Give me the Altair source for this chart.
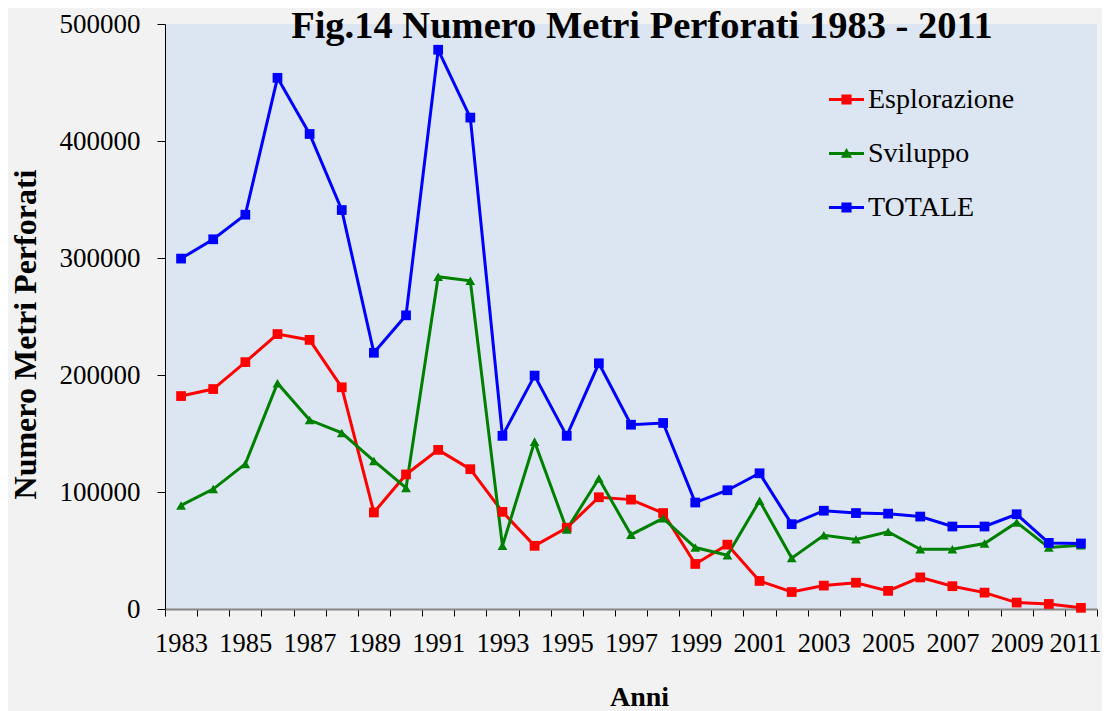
import altair as alt
import pandas as pd

anni = [1983, 1984, 1985, 1986, 1987, 1988, 1989, 1990, 1991, 1992,
        1993, 1994, 1995, 1996, 1997, 1998, 1999, 2000, 2001, 2002,
        2003, 2004, 2005, 2006, 2007, 2008, 2009, 2010, 2011]

esplorazione = [182000, 188000, 211000, 235000, 230000, 189500, 82500, 115000, 136000, 119500,
                83000, 54000, 69500, 95500, 93500, 82000, 38500, 55000, 24000, 14500,
                20000, 22500, 15500, 27000, 19500, 14000, 5500, 4300, 1000]

sviluppo = [88500, 102500, 124000, 193000, 161500, 150500, 126500, 103500, 284000, 280500,
            54000, 143000, 68000, 111500, 63500, 77500, 52500, 46000, 92500, 43500,
            63000, 59500, 66000, 51000, 51000, 56000, 74000, 52500, 54500]

totale = [299500, 316000, 337000, 454000, 406000, 341000, 219000, 251000, 478000, 420000,
          148000, 199500, 148000, 210000, 157500, 159000, 91000, 101500, 116000, 72500,
          84000, 82000, 81500, 79000, 70500, 70500, 81000, 56500, 56000]

serie = ["Esplorazione", "Sviluppo", "TOTALE"]
colori = ["#ff0000", "#008000", "#0000ff"]
forme = ["square", "triangle-up", "square"]
# legend symbols: line segment + marker
forme_legenda = [
    "M-1,-0.086H1V0.086H-1Z M-0.29,-0.29H0.29V0.29H-0.29Z",
    "M-1,-0.086H1V0.086H-1Z M0,-0.32L0.32,0.24H-0.32Z",
    "M-1,-0.086H1V0.086H-1Z M-0.29,-0.29H0.29V0.29H-0.29Z",
]

rows = []
for nome, valori in zip(serie, [esplorazione, sviluppo, totale]):
    for a, v in zip(anni, valori):
        rows.append({"anno": a, "valore": v, "serie": nome, "Legenda": nome})
df = pd.DataFrame(rows)

FONT = "Liberation Serif"

x_enc = alt.X(
    "anno:O",
    scale=alt.Scale(type="band", paddingInner=0, paddingOuter=0),
    axis=alt.Axis(
        title="Anni",
        labelExpr="datum.value % 2 == 1 ? datum.label : ''",
        labelAngle=0,
        labelFont=FONT, labelFontSize=26.5, labelColor="black",
        labelBaseline="alphabetic", labelPadding=35,
        labelOffset={"condition": {"test": "datum.value == 2011", "value": -6}, "value": 0},
        labelOverlap=False, labelFlush=False,
        tickBand="extent", tickSize=7, tickColor="black", tickWidth=1,
        domainColor="#868686", domainWidth=2,
        grid=False,
        titleFont=FONT, titleFontSize=28, titleFontWeight="bold", titleColor="black",
        titleX=474, titleY=96, titleBaseline="alphabetic", titleAlign="center",
    ),
)

y_enc = alt.Y(
    "valore:Q",
    scale=alt.Scale(domain=[0, 500000], nice=False),
    axis=alt.Axis(
        title="Numero Metri Perforati",
        values=[0, 100000, 200000, 300000, 400000, 500000],
        format="d",
        labelFont=FONT, labelFontSize=27, labelColor="black", labelPadding=17,
        tickSize=8, tickColor="black", tickWidth=1,
        domainColor="black", domainWidth=1,
        grid=False,
        titleFont=FONT, titleFontSize=32, titleFontWeight="bold", titleColor="black",
        titleAngle=-90, titleX=-130, titleY=310, titleBaseline="alphabetic", titleAlign="center",
    ),
)

lines = alt.Chart().mark_line(strokeWidth=3).encode(
    x=x_enc, y=y_enc,
    color=alt.Color("serie:N", scale=alt.Scale(domain=serie, range=colori), legend=None),
)

points = alt.Chart().mark_point(filled=True, size=95, opacity=1).encode(
    x=x_enc, y=y_enc,
    color=alt.Color("serie:N", scale=alt.Scale(domain=serie, range=colori), legend=None),
    shape=alt.Shape("serie:N", scale=alt.Scale(domain=serie, range=forme), legend=None),
)

leg = alt.Legend(
    title=None, orient="none", legendX=664, legendY=58,
    labelFont=FONT, labelFontSize=28, labelColor="black", labelOffset=4,
    symbolSize=1225, symbolStrokeWidth=0, symbolOpacity=1, rowPadding=22,
    padding=0,
)

legend_layer = alt.Chart().mark_point(filled=True, opacity=0).encode(
    x=x_enc, y=y_enc,
    color=alt.Color("Legenda:N", scale=alt.Scale(domain=serie, range=colori), legend=leg),
    shape=alt.Shape("Legenda:N", scale=alt.Scale(domain=serie, range=forme_legenda), legend=leg),
)

chart = alt.layer(lines, points, legend_layer, data=df).resolve_scale(
    color="independent", shape="independent"
).properties(
    width=932, height=585,
    title=alt.TitleParams(
        "Fig.14 Numero Metri Perforati 1983 - 2011",
        font=FONT, fontSize=38.5, fontWeight="bold", color="black",
        anchor="middle", frame="group", baseline="alphabetic", offset=7, dx=11, dy=73,
    ),
    autosize=alt.AutoSizeParams(type="none"),
    padding={"left": 157, "top": 16, "right": 5, "bottom": 102},
    background="#f2f2f2",
).configure_view(
    fill="#dce6f2", stroke=None,
)

chart.save("out.html", embed_options={"renderer": "svg", "actions": False})
